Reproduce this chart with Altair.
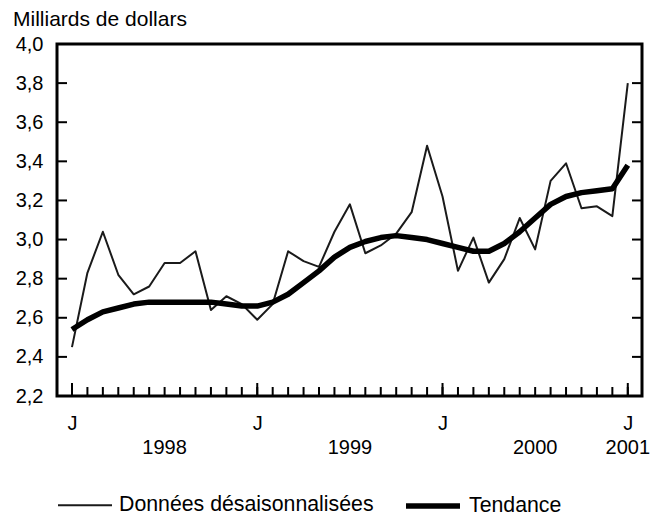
import altair as alt
import pandas as pd

# ---- data ----
months = [f"{y}-{m:02d}" for y in (1998, 1999, 2000) for m in range(1, 13)] + ["2001-01"]
sa_values = [2.45, 2.83, 3.04, 2.82, 2.72, 2.76, 2.88, 2.88, 2.94, 2.64, 2.71, 2.67,
             2.59, 2.67, 2.94, 2.89, 2.86, 3.04, 3.18, 2.93, 2.97, 3.03, 3.14, 3.48,
             3.22, 2.84, 3.01, 2.78, 2.90, 3.11, 2.95, 3.30, 3.39, 3.16, 3.17, 3.12, 3.80]
trend_values = [2.54, 2.59, 2.63, 2.65, 2.67, 2.68, 2.68, 2.68, 2.68, 2.68, 2.67, 2.66,
                2.66, 2.68, 2.72, 2.78, 2.84, 2.91, 2.96, 2.99, 3.01, 3.02, 3.01, 3.00,
                2.98, 2.96, 2.94, 2.94, 2.98, 3.04, 3.11, 3.18, 3.22, 3.24, 3.25, 3.26, 3.38]
series_names = ["Données désaisonnalisées", "Tendance"]
y_label_values = [2.2, 2.4, 2.6, 2.8, 3.0, 3.2, 3.4, 3.6, 3.8, 4.0]
y_tick_values = [2.4, 2.6, 2.8, 3.0, 3.2, 3.4, 3.6, 3.8]
j_positions = [0, 12, 24, 36]
year_labels = ["1998", "1999", "2000", "2001"]
year_positions = [6, 18, 30, 36]
y_title = "Milliards de dollars"

FONT = "Liberation Sans"
W, H = 585, 352

rows = []
for i, m in enumerate(months):
    rows.append({"idx": i, "month": m, "value": sa_values[i], "series": series_names[0]})
for i, m in enumerate(months):
    rows.append({"idx": i, "month": m, "value": trend_values[i], "series": series_names[1]})
df = pd.DataFrame(rows)

xscale = alt.Scale(domain=[-0.97, 36.92], nice=False, zero=False)
yscale = alt.Scale(domain=[2.2, 4.0], nice=False, zero=False)

x_axis = alt.Axis(values=j_positions, labelExpr="'J'", tickSize=0, domain=False,
                  grid=False, title=None, labelFont=FONT, labelFontSize=20,
                  labelColor="black", labelPadding=17, labelOverlap=False,
                  labelFlush=False)
y_axis = alt.Axis(values=y_label_values,
                  labelExpr="replace(format(datum.value, '.1f'), '.', ',')",
                  tickSize=0, domain=False, grid=False, title=None,
                  labelFont=FONT, labelFontSize=20, labelColor="black",
                  labelPadding=14, labelOverlap=False, labelFlush=False)

legend_kw = dict(title=None, orient="none", legendX=0, legendY=432,
                 direction="horizontal", symbolType="stroke", symbolSize=2916,
                 labelFont=FONT, labelFontSize=21.3, labelColor="black", labelOffset=6,
                 columnPadding=21, labelLimit=0, symbolStrokeColor="black")

lines = alt.Chart(df).mark_line(strokeCap="butt", strokeJoin="round").encode(
    x=alt.X("idx:Q", scale=xscale, axis=x_axis),
    y=alt.Y("value:Q", scale=yscale, axis=y_axis),
    color=alt.Color("series:N",
                    scale=alt.Scale(domain=series_names, range=["#1a1a1a", "#000000"]),
                    legend=alt.Legend(**legend_kw)),
    strokeWidth=alt.StrokeWidth("series:N",
                                scale=alt.Scale(domain=series_names, range=[2, 5.5]),
                                legend=alt.Legend(**legend_kw)),
    order="idx:Q",
)

ytick_df = pd.DataFrame({"v": y_tick_values})
left_ticks = alt.Chart(ytick_df).mark_rule(color="black", strokeWidth=2).encode(
    y=alt.Y("v:Q", scale=yscale, axis=y_axis), x=alt.value(0), x2=alt.value(10))
right_ticks = alt.Chart(ytick_df).mark_rule(color="black", strokeWidth=2).encode(
    y=alt.Y("v:Q", scale=yscale, axis=y_axis), x=alt.value(W - 10), x2=alt.value(W))

minor_df = pd.DataFrame({"m": list(range(len(months)))})
minor_ticks = alt.Chart(minor_df).mark_rule(color="black", strokeWidth=2).encode(
    x=alt.X("m:Q", scale=xscale, axis=x_axis), y=alt.value(H), y2=alt.value(H - 9))
major_df = pd.DataFrame({"m": j_positions})
major_ticks = alt.Chart(major_df).mark_rule(color="black", strokeWidth=2).encode(
    x=alt.X("m:Q", scale=xscale, axis=x_axis), y=alt.value(H), y2=alt.value(H - 13))

year_df = pd.DataFrame({"pos": year_positions, "label": year_labels})
years = alt.Chart(year_df).mark_text(font=FONT, fontSize=20, color="black",
                                     baseline="middle", align="center").encode(
    x=alt.X("pos:Q", scale=xscale, axis=x_axis), y=alt.value(H + 52), text="label:N")

title_df = pd.DataFrame({"t": [y_title]})
title = alt.Chart(title_df).mark_text(font=FONT, fontSize=21, color="black",
                                      baseline="alphabetic", align="left").encode(
    x=alt.value(-44), y=alt.value(-18), text="t:N")

chart = alt.layer(lines, left_ticks, right_ticks, minor_ticks, major_ticks, years, title).properties(
    width=W, height=H,
    autosize=alt.AutoSizeParams(type="none"),
    padding={"left": 49, "top": 36, "right": 12, "bottom": 122},
).configure(background="white").configure_view(stroke="black", strokeWidth=3)

chart.save("out.html", embed_options={"renderer": "svg", "actions": False})
